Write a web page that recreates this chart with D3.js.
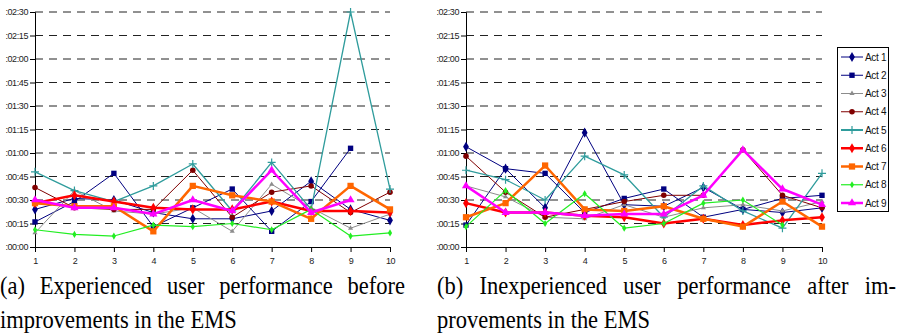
<!DOCTYPE html>
<html>
<head>
<meta charset="utf-8">
<script src="https://cdn.jsdelivr.net/npm/d3@7"></script>
<style>
  html, body { margin: 0; padding: 0; background: #fff; }
  svg { display: block; }
</style>
</head>
<body>
<svg id="chart" width="899" height="335"></svg>
<script>
// categories on the x axis
const categories = [1, 2, 3, 4, 5, 6, 7, 8, 9, 10];
const seriesNames = ['Act 1', 'Act 2', 'Act 3', 'Act 4', 'Act 5', 'Act 6', 'Act 7', 'Act 8', 'Act 9'];
// y ticks in seconds (00:00 .. 02:30)
const yTicks = [0, 15, 30, 45, 60, 75, 90, 105, 120, 135, 150];

// (a) experienced users before improvements, seconds per activity
const beforeValues = [
    [24, 31, 30, 22, 18, 18, 23, 42, 24, 17],
    [16, 29, 47, 13, 25, 37, 10, 29, 63, null],
    [9, 36, 23, 21, 25, 10, 40, 25, 12, 21],
    [38, 25, 24, 24, 49, 19, 35, 39, 22, 35],
    [48, 36, 29, 39, 53, 23, 54, 24, 150, 37],
    [28, 33, 29, 25, 24, 24, 29, 23, 23, 22],
    [28, 26, 26, 10, 39, 33, 29, 18, 39, 24],
    [11, 8, 7, 14, 13, 15, 11, 24, 7, 9],
    [30, 25, 25, 21, 30, 23, 49, 22, 30, null]
];

// (b) inexperienced users after improvements, seconds per activity
const afterValues = [
    [64, 50, 25, 73, 27, 26, 38, 24, 22, 25],
    [14, 50, 47, 22, 31, 37, 19, 24, 31, 33],
    [39, 32, 19, 18, 27, 19, 25, 27, 23, 29],
    [58, 35, 19, 24, 29, 33, 33, 62, 33, 25],
    [49, 43, 30, 58, 46, 19, 39, 23, 12, 47],
    [28, 22, 22, 20, 19, 15, 18, 14, 17, 19],
    [19, 28, 52, 24, 23, 26, 18, 13, 29, 13],
    [13, 36, 15, 34, 12, 15, 28, 30, 14, null],
    [39, 22, 22, 20, 21, 21, 33, 62, 37, 27]
];

const styles = [
    { color: '#000080', width: 1, shape: 'diamond', size: 7 },
    { color: '#000080', width: 1, shape: 'square', size: 6 },
    { color: '#8c8c8c', width: 1, shape: 'triangle', size: 5 },
    { color: '#800000', width: 1, shape: 'circle', size: 5.5 },
    { color: '#2f9c9c', width: 1.3, shape: 'plus', size: 8 },
    { color: '#ff0000', width: 2.5, shape: 'diamond', size: 7 },
    { color: '#ff6600', width: 2.5, shape: 'square', size: 7 },
    { color: '#22ee22', width: 1.2, shape: 'diamond', size: 5 },
    { color: '#ff00ff', width: 2.5, shape: 'triangle', size: 8 }
];

const svg = d3.select('#chart');
const fmt = s => ':' + d3.format('02')(Math.floor(s / 60)) + ':' + d3.format('02')(s % 60);

function marker(g, shape, cx, cy, size, color) {
    if (shape === 'plus') {
        g.append('path')
            .attr('d', `M${cx - size / 2},${cy}H${cx + size / 2}M${cx},${cy - size / 2}V${cy + size / 2}`)
            .attr('stroke', color).attr('stroke-width', 1.2).attr('fill', 'none');
        return;
    }
    const types = { diamond: d3.symbolDiamond, square: d3.symbolSquare, triangle: d3.symbolTriangle, circle: d3.symbolCircle };
    const area = shape === 'diamond' ? size * size * 0.6 : shape === 'triangle' ? size * size * 0.45 : size * size * 0.8;
    g.append('path')
        .attr('d', d3.symbol().type(types[shape]).size(area)())
        .attr('transform', `translate(${cx},${cy})`)
        .attr('fill', color);
}

function drawPanel(x0, x1, values) {
    const x = d3.scalePoint().domain(categories).range([x0, x1]);
    const y = d3.scaleLinear().domain([0, 150]).range([247, 12]);
    const g = svg.append('g');

    // dashed gridlines
    g.selectAll('.grid')
        .data(yTicks.filter(t => t > 0))
        .join('line')
        .attr('x1', x0).attr('x2', x1)
        .attr('y1', d => y(d)).attr('y2', d => y(d))
        .attr('stroke', '#222').attr('stroke-width', 1)
        .attr('stroke-dasharray', '8,6');

    const yAxis = g.append('g')
        .attr('transform', `translate(${x0},0)`)
        .call(d3.axisLeft(y).tickValues(yTicks).tickFormat(fmt).tickSize(5).tickPadding(2));
    const xAxis = g.append('g')
        .attr('transform', `translate(0,${y(0)})`)
        .call(d3.axisBottom(x).tickSize(5).tickPadding(6));
    [yAxis, xAxis].forEach(a => {
        a.select('.domain').attr('stroke', '#000');
        a.selectAll('.tick line').attr('stroke', '#000');
        a.selectAll('text').attr('font-family', 'Liberation Sans, Arial, sans-serif')
            .attr('font-size', 9).attr('fill', '#222').attr('letter-spacing', -0.4);
    });

    values.forEach((vals, i) => {
        const st = styles[i];
        const pts = categories.map((c, j) => ({ c, v: vals[j] })).filter(p => p.v != null);
        const line = d3.line().x(p => x(p.c)).y(p => y(p.v));
        g.append('path')
            .datum(pts)
            .attr('d', line)
            .attr('fill', 'none')
            .attr('stroke', st.color)
            .attr('stroke-width', st.width)
            .attr('stroke-linejoin', 'round');
        pts.forEach(p => marker(g, st.shape, x(p.c), y(p.v), st.size, st.color));
    });
}

drawPanel(35, 390, beforeValues);
drawPanel(466, 822, afterValues);

// legend
const legend = svg.append('g');
legend.append('rect')
    .attr('x', 837.5).attr('y', 47.5).attr('width', 51).attr('height', 164)
    .attr('fill', '#fff').attr('stroke', '#000').attr('stroke-width', 1);
seriesNames.forEach((name, i) => {
    const st = styles[i];
    const ly = 57 + i * 18.25;
    legend.append('line')
        .attr('x1', 841).attr('x2', 863).attr('y1', ly).attr('y2', ly)
        .attr('stroke', st.color).attr('stroke-width', i === 4 ? 2 : st.width);
    marker(legend, st.shape, 852, ly, st.size, st.color);
    legend.append('text')
        .attr('x', 865).attr('y', ly + 3.5)
        .attr('font-family', 'Liberation Sans, Arial, sans-serif')
        .attr('font-size', 10).attr('letter-spacing', -0.3).attr('fill', '#111')
        .text(name);
});

// captions: narrow serif, first lines justified with word spacing
const sx = 0.9;
const captions = [
    { x: 0, y: 294, text: '(a) Experienced user performance before', w: 405 },
    { x: 0, y: 328, text: 'improvements in the EMS', w: null },
    { x: 437, y: 294, text: '(b) Inexperienced user performance after im-', w: 459 },
    { x: 437, y: 328, text: 'provements in the EMS', w: null }
];
captions.forEach(c => {
    const t = svg.append('text')
        .attr('transform', `translate(${c.x},${c.y}) scale(${sx},1)`)
        .attr('font-family', 'Liberation Serif, Times New Roman, serif')
        .attr('font-size', 25).attr('fill', '#000')
        .text(c.text);
    if (c.w) {
        const natural = t.node().getComputedTextLength();
        const gaps = c.text.split(' ').length - 1;
        const extra = Math.max(0, (c.w / sx - natural) / gaps);
        t.attr('word-spacing', extra);
    }
});
</script>
</body>
</html>
